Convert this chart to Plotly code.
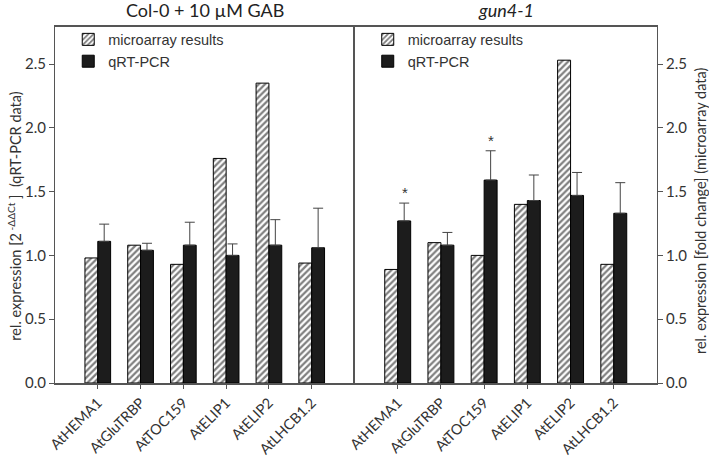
import plotly.graph_objects as go

genes = ["AtHEMA1", "AtGluTRBP", "AtTOC159", "AtELIP1", "AtELIP2", "AtLHCB1.2"]

# Col-0 + 10 µM GAB
gab_micro = [0.98, 1.08, 0.93, 1.76, 2.35, 0.94]
gab_qpcr = [1.11, 1.04, 1.08, 1.00, 1.08, 1.06]
gab_qpcr_err = [0.135, 0.055, 0.18, 0.09, 0.20, 0.31]

# gun4-1
gun_micro = [0.89, 1.10, 1.00, 1.40, 2.53, 0.93]
gun_qpcr = [1.27, 1.08, 1.59, 1.43, 1.47, 1.33]
gun_qpcr_err = [0.14, 0.10, 0.23, 0.20, 0.18, 0.24]

# significance stars (gun4-1, qRT-PCR)
star_genes = ["AtHEMA1", "AtTOC159"]
star_y = [1.49, 1.90]

FONT = "Lato"
AX = "#555555"
TXT = "#333333"

fig = go.Figure()

def add_panel(micro, qpcr, err, xa, ya, leg):
    fig.add_trace(go.Bar(
        x=genes, y=micro, name="microarray results", xaxis=xa, yaxis=ya,
        legend=leg,
        marker=dict(color="white", line=dict(color="black", width=1),
                    pattern=dict(shape="/", fgcolor="black", bgcolor="white",
                                 size=4.5, solidity=0.5)),
    ))
    fig.add_trace(go.Bar(
        x=genes, y=qpcr, name="qRT-PCR", xaxis=xa, yaxis=ya, legend=leg,
        marker=dict(color="#1c1c1c", line=dict(color="black", width=1)),
        error_y=dict(type="data", array=err, arrayminus=[0] * len(err),
                     symmetric=False, color="#444444", thickness=1, width=5),
    ))

add_panel(gab_micro, gab_qpcr, gab_qpcr_err, "x", "y", "legend")
add_panel(gun_micro, gun_qpcr, gun_qpcr_err, "x2", "y2", "legend2")

split = 0.4975
yr = [0, 2.79]

xcommon = dict(type="category", range=[-1, 6], showline=True, linecolor=AX,
               linewidth=1.5, ticks="outside", ticklen=4, tickcolor=AX,
               tickangle=-45, showgrid=False, zeroline=False, automargin=False,
               tickfont=dict(family=FONT, size=14.5, color=TXT))
ycommon = dict(range=yr, showline=True, linecolor=AX, linewidth=1.2,
               ticks="outside", ticklen=5, tickcolor=AX, mirror=True,
               tickvals=[0, 0.5, 1.0, 1.5, 2.0, 2.5], tickformat=".1f",
               showgrid=False, zeroline=False, automargin=False,
               tickfont=dict(family=FONT, size=15, color=TXT))

legfont = dict(family="Liberation Sans", size=14.5, color=TXT)

fig.update_layout(
    width=709, height=459,
    margin=dict(l=55, r=52, t=27, b=76),
    paper_bgcolor="white", plot_bgcolor="white",
    barmode="group", bargap=0.4, bargroupgap=0,
    xaxis=dict(domain=[0, split], anchor="y", mirror=True, **xcommon),
    xaxis2=dict(domain=[split, 1], anchor="y2", mirror=True, **xcommon),
    yaxis=dict(anchor="x", side="left", **ycommon),
    yaxis2=dict(anchor="x2", side="right", **ycommon),
    legend=dict(x=0.022, y=1.01, xanchor="left", yanchor="top",
                bgcolor="rgba(0,0,0,0)", tracegroupgap=0, font=legfont),
    legend2=dict(x=split + 0.022, y=1.01, xanchor="left", yanchor="top",
                 bgcolor="rgba(0,0,0,0)", tracegroupgap=0, font=legfont),
    showlegend=True,
)

# axis titles
fig.add_annotation(text="rel. expression [2<sup> -ΔΔCt</sup> ]  (qRT-PCR data)",
                   xref="paper", yref="paper", x=-0.0665, y=0.47,
                   xanchor="center", yanchor="middle", textangle=-90, showarrow=False,
                   font=dict(family=FONT, size=14.5, color=TXT))
fig.add_annotation(text="rel. expression [fold change] (microarray data)",
                   xref="paper", yref="paper", x=1.0714, y=0.483,
                   xanchor="center", yanchor="middle", textangle=-90, showarrow=False,
                   font=dict(family=FONT, size=14.5, color=TXT))

# panel titles
fig.add_annotation(text="Col-0 + 10 µM GAB", xref="paper", yref="paper",
                   x=split / 2, y=1, xanchor="center", yanchor="bottom", yshift=4,
                   showarrow=False,
                   font=dict(family=FONT, size=18, color="#222222"))
fig.add_annotation(text="<i>gun4-1</i>", xref="paper", yref="paper",
                   x=(split + 1) / 2, y=1, xanchor="center", yanchor="bottom", yshift=4,
                   showarrow=False,
                   font=dict(family=FONT, size=18, color="#222222"))

for g, yv in zip(star_genes, star_y):
    fig.add_annotation(text="*", x=g, y=yv, xref="x2", yref="y2", xshift=7,
                       showarrow=False,
                       font=dict(family="Liberation Sans", size=15, color=TXT))

fig.write_html("out.html", config={"displayModeBar": False},
               post_script="document.body.style.margin='0px';")
